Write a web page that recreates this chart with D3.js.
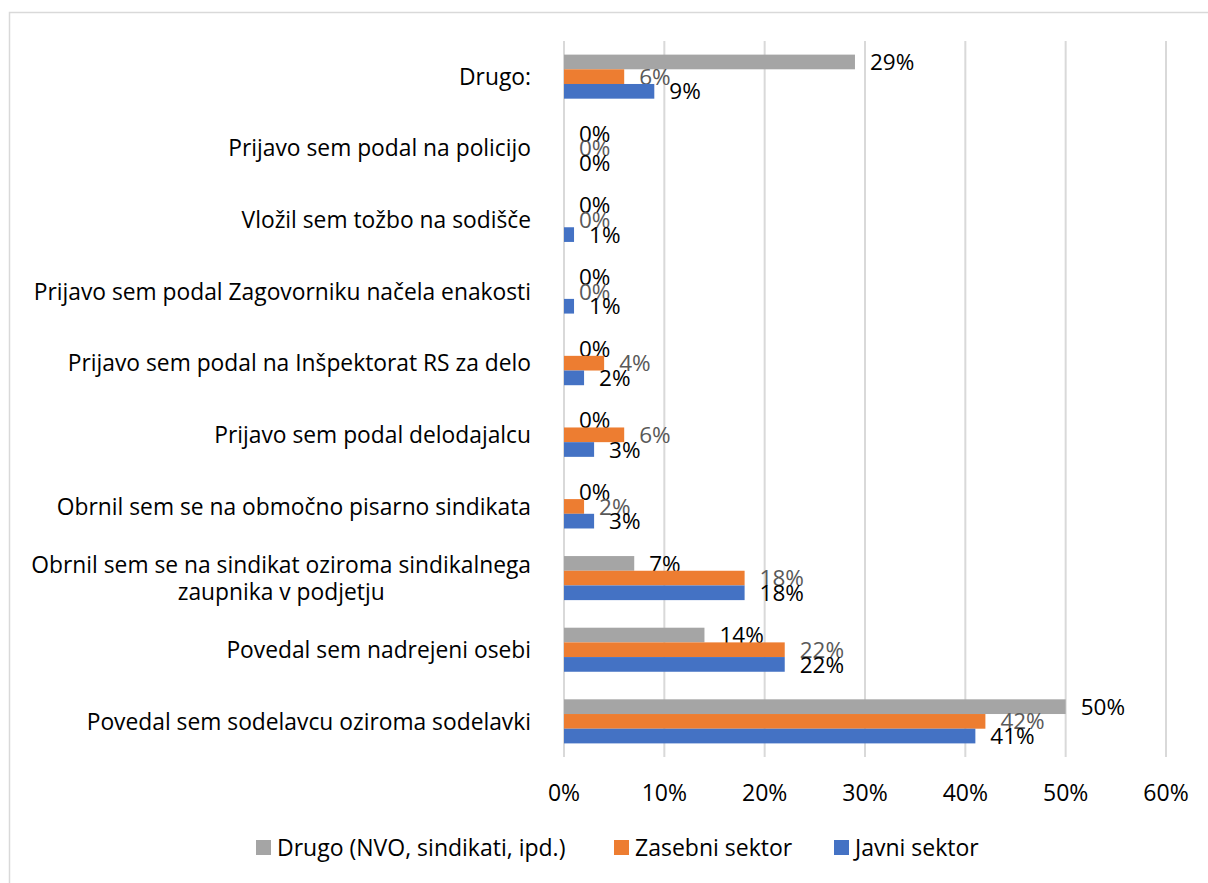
<!DOCTYPE html>
<html>
<head>
<meta charset="utf-8">
<script src="https://cdn.jsdelivr.net/npm/d3@7"></script>
<style>
  body { margin: 0; background: #fff; }
  text { font-family: "Open Sans", "Noto Sans", sans-serif; }
</style>
</head>
<body>
<div id="chart"></div>
<script>
"use strict";

// categories, top to bottom as drawn
const categories = [
    "Drugo:",
    "Prijavo sem podal na policijo",
    "Vložil sem tožbo na sodišče",
    "Prijavo sem podal Zagovorniku načela enakosti",
    "Prijavo sem podal na Inšpektorat RS za delo",
    "Prijavo sem podal delodajalcu",
    "Obrnil sem se na območno pisarno sindikata",
    "Obrnil sem se na sindikat oziroma sindikalnega|zaupnika v podjetju",
    "Povedal sem nadrejeni osebi",
    "Povedal sem sodelavcu oziroma sodelavki"
];
const seriesNames = ["Drugo (NVO, sindikati, ipd.)", "Zasebni sektor", "Javni sektor"];
const drugoValues = [29, 0, 0, 0, 0, 0, 0, 7, 14, 50];
const zasebniValues = [6, 0, 0, 0, 4, 6, 2, 18, 22, 42];
const javniValues = [9, 0, 1, 1, 2, 3, 3, 18, 22, 41];
const xTicks = [0, 10, 20, 30, 40, 50, 60];

const seriesValues = [drugoValues, zasebniValues, javniValues];
const colors = ["#A5A5A5", "#ED7D31", "#4472C4"];
const labelColors = ["#000000", "#595959", "#000000"];

const msm = {
    width: 1208,
    height: 883,
    left: 564,
    right: 1166,
    top: 41,
    bottom: 757,
    font: 22.5,
    catFont: 22.8
}

let svg = d3.select("#chart")
    .append("svg")
    .attr("width", msm.width)
    .attr("height", msm.height);

// outer border
svg.append("rect")
    .attr("x", 9.5)
    .attr("y", 12.5)
    .attr("width", 1220)
    .attr("height", 900)
    .attr("fill", "none")
    .attr("stroke", "#D9D9D9")
    .attr("stroke-width", 1.5);

let xScale = d3.scaleLinear()
    .domain([0, 60])
    .range([msm.left, msm.right]);

let yScale = d3.scaleBand()
    .domain(categories)
    .range([msm.top, msm.bottom])
    .paddingInner(0.385)
    .paddingOuter(0.19);

let inner = d3.scaleBand()
    .domain(d3.range(3))
    .range([0, yScale.bandwidth()]);

// gridlines
svg.append("g")
    .selectAll("line")
    .data(xTicks)
    .enter()
    .append("line")
    .attr("x1", d => xScale(d))
    .attr("x2", d => xScale(d))
    .attr("y1", msm.top)
    .attr("y2", msm.bottom)
    .attr("stroke", "#D9D9D9")
    .attr("stroke-width", 2);

// x tick labels
svg.append("g")
    .selectAll("text")
    .data(xTicks)
    .enter()
    .append("text")
    .attr("x", d => xScale(d))
    .attr("y", 801)
    .attr("text-anchor", "middle")
    .style("font-size", "23px")
    .attr("fill", "#000")
    .text(d => d + "%");

// bars and labels
seriesValues.forEach((vals, s) => {
    let g = svg.append("g");
    g.selectAll("rect")
        .data(vals)
        .enter()
        .append("rect")
        .attr("x", xScale(0))
        .attr("y", (d, i) => yScale(categories[i]) + inner(s))
        .attr("width", d => xScale(d) - xScale(0))
        .attr("height", inner.bandwidth())
        .attr("fill", colors[s]);

    g.selectAll("text")
        .data(vals)
        .enter()
        .append("text")
        .attr("x", d => xScale(d) + 15)
        .attr("y", (d, i) => yScale(categories[i]) + inner(s) + inner.bandwidth() / 2)
        .attr("dy", "0.36em")
        .style("font-size", msm.font + "px")
        .attr("fill", labelColors[s])
        .text(d => d + "%");
});

// category labels
let catG = svg.append("g");
categories.forEach((c, i) => {
    let lines = c.split("|");
    let cy = yScale(c) + yScale.bandwidth() / 2;
    if (lines.length == 1) {
        catG.append("text")
            .attr("x", 531)
            .attr("y", cy)
            .attr("dy", "0.36em")
            .attr("text-anchor", "end")
            .style("font-size", msm.catFont + "px")
            .text(c);
    } else {
        let first = catG.append("text")
            .attr("x", 531)
            .attr("y", cy - 13)
            .attr("dy", "0.36em")
            .attr("text-anchor", "end")
            .style("font-size", msm.catFont + "px")
            .text(lines[0]);
        let w = first.node().getComputedTextLength();
        catG.append("text")
            .attr("x", 531 - w / 2)
            .attr("y", cy + 14)
            .attr("dy", "0.36em")
            .attr("text-anchor", "middle")
            .style("font-size", msm.catFont + "px")
            .text(lines[1]);
    }
});

// legend
const legendX = [256, 614, 834];
let legend = svg.append("g");
seriesNames.forEach((name, s) => {
    legend.append("rect")
        .attr("x", legendX[s])
        .attr("y", 840)
        .attr("width", 15)
        .attr("height", 15)
        .attr("fill", colors[s]);
    legend.append("text")
        .attr("x", legendX[s] + 21)
        .attr("y", 848)
        .attr("dy", "0.36em")
        .style("font-size", "23px")
        .text(name);
});
</script>
</body>
</html>
